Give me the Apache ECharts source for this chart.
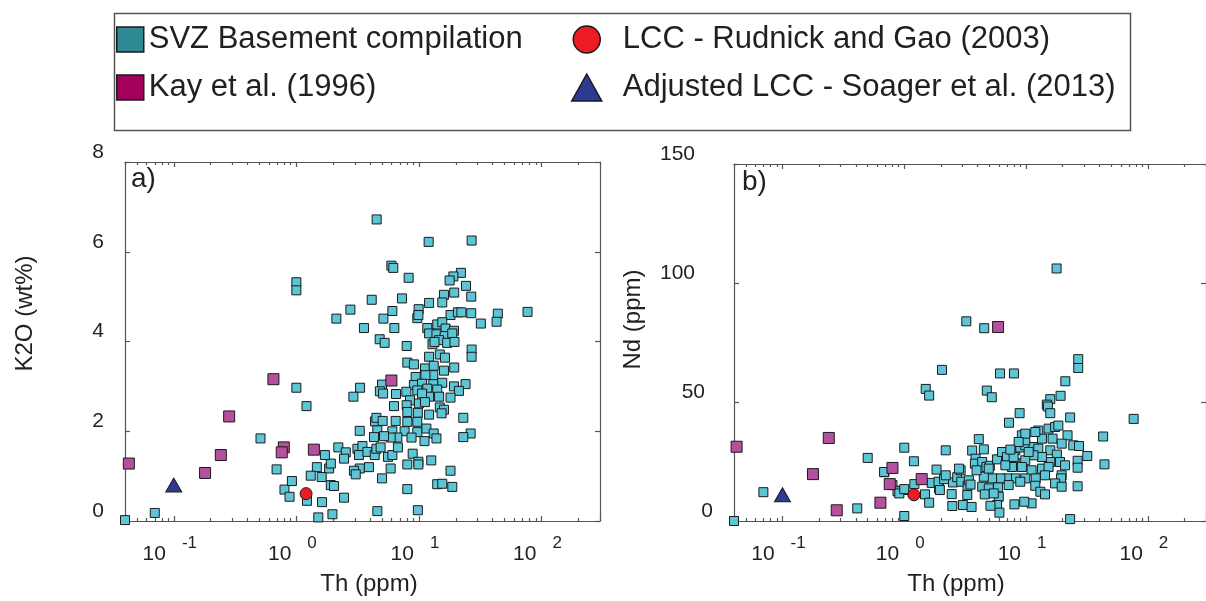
<!DOCTYPE html>
<html>
<head>
<meta charset="utf-8">
<script src="https://cdn.jsdelivr.net/npm/echarts@6/dist/echarts.min.js"></script>
<style>
  html, body { margin: 0; padding: 0; background: #ffffff; }
  #chart { width: 1206px; height: 601px; }
</style>
</head>
<body>
<div id="chart"></div>
<script>
// ---- series data: [Th (ppm), value] ----
// Panel a: K2O (wt%)
const svzK2O = [
  [0.04,0.02],[0.07,0.18],[0.51,1.84],[0.69,1.15],[0.80,0.70],[0.88,0.54],[0.92,0.89],[1.0,2.97],[1.21,2.56],[1.0,5.32],[1.0,5.14],
  [4.52,6.72],[12.0,6.22],[26.9,6.25],[5.96,5.69],[6.18,5.64],[8.24,5.42],[22.0,5.53],[19.1,5.45],[17.8,5.36],[24.2,5.24],[19.4,5.09],
  [16.0,5.04],[26.7,5.0],[4.12,4.93],[7.27,4.96],[15.5,4.87],[12.1,4.86],[2.76,4.71],[6.07,4.68],[9.95,4.72],[9.7,4.52],[9.9,4.59],
  [2.12,4.51],[5.13,4.51],[18.1,4.59],[20.8,4.65],[22.2,4.65],[26.7,4.63],[44,4.62],[43,4.44],[32,4.40],[76.9,4.66],[3.56,4.30],[6.3,4.30],
  [11.7,4.30],[14.1,4.38],[15.5,4.43],[16.5,4.29],[19.3,4.24],[12.1,4.18],[13.9,4.16],[16.2,4.12],[18.7,4.18],[14.6,4.03],[17.0,3.97],
  [19.5,3.99],[12.9,3.94],[13.4,3.99],[12.1,3.66],[14.8,3.71],[16.3,3.64],[7.94,3.90],[4.78,4.05],[5.25,3.97],[26.9,3.82],[26.9,3.66],
  [8.04,3.53],[9.1,3.49],[3.31,2.97],[2.92,2.77],[5.0,3.04],[4.8,2.89],[5.1,2.84],[6.5,2.83],
  [9.4,3.21],[11.2,3.40],[13.2,3.46],[16.0,3.35],[19.4,3.42],[13.1,3.25],[11.3,3.25],[9.1,3.03],[10.6,3.06],[13.1,3.05],[15.5,3.08],
  [24.0,3.05],[7.9,2.88],[9.7,2.91],[11.7,2.95],[14.1,2.93],[19.3,3.0],[21.2,2.90],[18.1,2.75],[14.6,2.77],[12.1,2.77],[10.6,2.84],[8.45,2.69],
  [6.26,2.56],[7.94,2.58],[8.04,2.43],[10.0,2.62],[11.2,2.65],[9.8,2.41],[12.1,2.37],[14.8,2.53],[16.0,2.48],[15.3,2.40],[23.0,2.30],
  [26.4,1.95],[23.0,1.87],[4.38,2.22],[4.5,2.30],[5.06,2.23],[6.46,2.23],[8.04,2.21],[9.7,2.21],
  [3.29,2.01],[4.58,2.02],[6.07,2.0],[7.64,2.0],[9.7,1.98],[11.5,2.06],[13.2,1.95],[13.9,1.84],[11.1,1.78],[8.7,1.86],[6.67,1.86],
  [5.88,1.86],[5.19,1.89],[4.3,1.87],
  [2.2,1.64],[2.53,1.53],[2.45,1.39],[3.15,1.61],[3.24,1.47],[3.46,1.67],[3.8,1.54],[4.36,1.47],[4.5,1.61],[4.87,1.64],[5.59,1.43],
  [6.07,1.47],[6.74,1.64],[8.89,1.50],[9.9,1.32],[9.9,1.26],[12.6,1.35],[8.04,1.26],[5.88,1.17],[3.91,1.20],[3.29,1.17],[2.95,1.12],
  [3.05,1.04],[1.85,1.17],[1.91,1.28],[1.47,1.20],[1.31,1.01],[1.61,0.98],[1.91,0.80],[2.03,0.78],[2.45,0.52],[1.62,0.42],[1.22,0.45],
  [1.51,0.08],[1.97,0.15],[4.58,0.22],[9.8,0.24],[8.04,0.71],[14.1,0.82],[15.5,0.83],[18.7,0.76],[18.1,1.12],[5.0,0.95],[1.71,1.47]
];
const kayK2O = [[0.043,1.28],[0.18,1.07],[0.242,1.47],[0.283,2.33],[0.65,3.16],[0.79,1.64],[0.76,1.53],[1.39,1.59],[5.96,3.13]];
const lccRudnickK2O = [[1.2, 0.61]];
const lccSoagerK2O = [[0.1, 0.8]];

// Panel b: Nd (ppm)
const svzNd = [
  [0.04,0],[0.0697,12.1],[0.411,5.3],[0.501,26.5],[0.687,20.5],[0.80,15.1],[0.89,12.7],[1.0,13.0],[1.0,30.8],[1.0,2.1],
  [17.8,106.1],[3.23,83.9],[4.53,81.0],[2.04,63.5],[6.11,62.0],[7.95,62.0],[26.8,68.0],[26.8,64.3],[21.0,58.7],[1.50,55.5],[1.60,52.7],
  [4.76,54.8],[5.23,52.0],[19.2,52.6],[15.8,51.2],[14.8,48.9],[15.1,48.1],[15.8,45.3],[8.85,45.3],[7.24,41.3],[23.0,43.5],[76.4,42.9],
  [42.9,35.5],[44.0,23.8],[31.8,27.3],[26.5,25.3],[26.5,22.4],[26.5,14.6],
  [1.2,25.1],[2.19,29.7],[1.84,21.6],[4.09,34.4],[3.61,29.6],[4.5,30.1],[0.683,20.6],[23.0,0.8],
  [0.88,12.5],[0.91,11.6],[1.0,13.4],[1.21,15.5],[1.48,11.2],[1.60,7.7],[1.68,16.0],[1.93,13.7],[1.91,16.5],[2.12,17.6],[2.45,11.3],
  [2.51,16.2],[2.72,18.4],[2.90,21.3],[2.94,16.5],[3.31,14.8],[3.39,17.1],[3.29,10.9],[2.48,6.3],[3.03,6.7],[3.57,5.9],[3.85,26.2],
  [3.80,24.1],[4.36,24.8],[4.73,22.7],[5.04,23.2],[5.78,25.9],[6.35,29.0],[6.97,26.9],[8.16,29.7],[8.96,30.9],[9.85,31.8],[11.5,31.1],
  [12.6,38.0],[15.3,38.8],[17.3,39.5],[18.4,40.1],[21.9,36.0],[24.4,31.8],[27.2,31.5],[9.24,36.0],[9.85,33.9],[13.5,34.6],[16.5,34.6],
  [19.6,32.5],[12.6,30.4],[15.8,29.7],[17.9,27.9],[19.0,24.8],[20.9,23.4],[15.8,24.8],[13.5,26.9],[11.5,27.6],[9.85,25.5],[8.16,24.4],
  [7.66,22.7],[9.24,22.7],[11.1,21.3],[13.5,22.0],[15.3,22.7],[19.6,19.2],[19.4,17.9],[17.3,15.8],[19.6,14.4],[14.3,19.2],[12.0,17.9],
  [9.85,17.9],[8.16,17.9],[6.97,17.9],[6.15,17.9],[5.26,17.9],[4.5,18.6],[4.36,14.4],[4.94,13.7],[5.89,14.1],[7.2,15.1],[8.96,16.5],
  [11.9,14.8],[13.1,12.3],[14.3,11.2],[11.1,7.4],[9.66,8.1],[8.02,7.0],[5.97,10.2],[5.78,6.7],[6.04,3.5],[5.1,6.4],[4.58,11.2],
  [5.43,11.6],[4.94,22.0],[6.76,23.4],[7.9,26.9],[3.92,21.3],[2.81,22.0],[2.19,19.2],[1.96,13.0],[11.9,37.4],[9.85,36.7],[8.69,33.2],
  [10.5,29.0],[7.43,30.0],[3.5,15.3]
];
const kayNd = [[0.042,31.2],[0.178,19.7],[0.24,34.9],[0.279,4.5],[0.80,22.3],[0.76,15.5],[1.39,17.6],[0.637,7.7],[5.89,81.5]];
const lccRudnickNd = [[1.2, 11]];
const lccSoagerNd = [[0.1, 11]];

// ---- axes ----
const thRange = [0.04, 300];
const thMajorTicks = [0.1, 1, 10, 100];
const thDecades = [0.01, 0.1, 1, 10, 100];
const k2oTicks = [0, 2, 4, 6, 8];
const ndTicks = [0, 50, 100, 150];

const seriesNames = {
  svz: 'SVZ Basement compilation',
  kay: 'Kay et al. (1996)',
  rudnick: 'LCC - Rudnick and Gao (2003)',
  soager: 'Adjusted LCC - Soager et al. (2013)'
};

const FONT = '"Liberation Sans", Arial, Helvetica, sans-serif';
const INK = '#231f20';
const AXIS_GREY = '#555555';
const TEAL = '#5cc6d6';
const MAGENTA = '#b5509f';

// minor log ticks: 2..9 within each decade
const thMinorTicks = [];
thDecades.forEach(d => {
  for (let k = 2; k <= 9; k++) {
    const v = +(k * d).toPrecision(3);
    if (v >= thRange[0] && v <= thRange[1]) thMinorTicks.push(v);
  }
});

const lineStyle = { color: AXIS_GREY, width: 1.2 };

function expLabel(v) {
  const e = Math.round(Math.log10(v));
  return '{b|10}{s|' + e + '}';
}

function thAxes(gridIndex, namePad) {
  const base = {
    type: 'log', logBase: 10, gridIndex: gridIndex,
    min: thRange[0], max: thRange[1],
    splitLine: { show: false },
    axisLine: { show: false, onZero: false },
    axisTick: { show: false },
    axisLabel: { show: false }
  };
  return [
    Object.assign({}, base, {
      position: 'bottom',
      axisLine: { show: true, onZero: false, lineStyle: lineStyle },
      axisTick: { show: true, inside: true, length: 5, customValues: thMajorTicks, lineStyle: lineStyle },
      axisLabel: {
        show: true, customValues: thMajorTicks, margin: 20,
        formatter: expLabel,
        rich: {
          b: { fontSize: 21, lineHeight: 24, fontFamily: FONT, color: INK, verticalAlign: 'bottom' },
          s: { fontSize: 17, lineHeight: 19, fontFamily: FONT, color: INK, verticalAlign: 'bottom', padding: [0, 8, 13, 16] }
        }
      },
      name: 'Th (ppm)', nameLocation: 'middle', nameGap: 51, nameMoveOverlap: false,
      nameTextStyle: { fontSize: 24, fontFamily: FONT, color: INK, padding: namePad }
    }),
    Object.assign({}, base, {
      position: 'bottom',
      axisTick: { show: true, inside: true, length: 3, customValues: thMinorTicks, lineStyle: lineStyle }
    }),
    Object.assign({}, base, {
      position: 'top',
      axisLine: { show: true, onZero: false, lineStyle: lineStyle },
      axisTick: { show: true, inside: true, length: 5, customValues: thMajorTicks, lineStyle: lineStyle }
    }),
    Object.assign({}, base, {
      position: 'top',
      axisTick: { show: true, inside: true, length: 3, customValues: thMinorTicks, lineStyle: lineStyle }
    })
  ];
}

function valueAxes(gridIndex, ticks, name, nameGap, namePad, labelFmt, labelRich) {
  const base = {
    type: 'value', gridIndex: gridIndex,
    min: ticks[0], max: ticks[ticks.length - 1], interval: ticks[1] - ticks[0],
    splitLine: { show: false },
    axisLine: { show: true, onZero: false, lineStyle: lineStyle },
    axisTick: { show: true, inside: true, length: 5, lineStyle: lineStyle }
  };
  return [
    Object.assign({}, base, {
      position: 'left',
      axisLabel: { show: true, margin: 21, formatter: labelFmt, rich: labelRich },
      name: name, nameLocation: 'middle', nameRotate: 90, nameGap: nameGap, nameMoveOverlap: false,
      nameTextStyle: { fontSize: 24, fontFamily: FONT, color: INK, padding: namePad }
    }),
    Object.assign({}, base, { position: 'right', axisLabel: { show: false } })
  ];
}

const tickText = { fontSize: 21, fontFamily: FONT, color: INK };
const k2oRich = { n: Object.assign({ padding: [0, 0, 20, 0] }, tickText) };
const ndRich = {
  w: Object.assign({ padding: [0, 18, 20, 0] }, tickText),
  n: Object.assign({ padding: [0, 8, 20, 0] }, tickText),
  z: Object.assign({ padding: [0, 0, 20, 0] }, tickText)
};

const xAxes = thAxes(0, [0, 0, 0, 13]).concat(thAxes(1, [0, 28, 0, 0]));
const yAxes = valueAxes(0, k2oTicks, 'K2O (wt%)', 88, [0, 0, 0, 56], v => '{n|' + v + '}', k2oRich)
  .concat(valueAxes(1, ndTicks, 'Nd (ppm)', 89, [0, 0, 0, 46],
    v => (v >= 100 ? '{w|' : v > 0 ? '{n|' : '{z|') + v + '}', ndRich));

const markerBorder = '#1a1a1a';
function panelSeries(xi, yi, svz, kay, rud, soa) {
  return [
    { type: 'scatter', name: seriesNames.svz, xAxisIndex: xi, yAxisIndex: yi, data: svz,
      symbol: 'rect', symbolSize: 9,
      itemStyle: { color: TEAL, borderColor: markerBorder, borderWidth: 1, opacity: 1 } },
    { type: 'scatter', name: seriesNames.kay, xAxisIndex: xi, yAxisIndex: yi, data: kay,
      symbol: 'rect', symbolSize: 11,
      itemStyle: { color: MAGENTA, borderColor: markerBorder, borderWidth: 1, opacity: 1 } },
    { type: 'scatter', name: seriesNames.rudnick, xAxisIndex: xi, yAxisIndex: yi, data: rud,
      symbol: 'circle', symbolSize: 12,
      itemStyle: { color: '#ed1c24', borderColor: markerBorder, borderWidth: 1, opacity: 1 } },
    { type: 'scatter', name: seriesNames.soager, xAxisIndex: xi, yAxisIndex: yi, data: soa,
      symbol: 'triangle', symbolSize: [16, 14],
      itemStyle: { color: '#2e3a92', borderColor: markerBorder, borderWidth: 1, opacity: 1 } }
  ];
}

const legendText = { fontSize: 31, fontFamily: FONT, color: INK };
const legendBorder = { borderColor: markerBorder, borderWidth: 1.5 };

const option = {
  animation: false,
  backgroundColor: '#ffffff',
  textStyle: { fontFamily: FONT, color: INK },
  grid: [
    { left: 125, top: 162, width: 475, height: 359, containLabel: false },
    { left: 734, top: 164, width: 475, height: 359, containLabel: false }
  ],
  title: [
    { text: 'a)', left: 131, top: 165, padding: 0, textStyle: { fontSize: 28, fontWeight: 'normal', fontFamily: FONT, color: INK } },
    { text: 'b)', left: 742, top: 168, padding: 0, textStyle: { fontSize: 28, fontWeight: 'normal', fontFamily: FONT, color: INK } }
  ],
  legend: [
    {
      orient: 'vertical', left: 116, top: 24, padding: 0,
      itemWidth: 27, itemHeight: 25, itemGap: 17, selectedMode: false,
      textStyle: legendText,
      data: [
        { name: seriesNames.svz, icon: 'rect', itemStyle: Object.assign({ color: '#2f8b93' }, legendBorder) },
        { name: seriesNames.kay, icon: 'rect', itemStyle: Object.assign({ color: '#a2005c' }, legendBorder) }
      ]
    },
    {
      orient: 'vertical', left: 571, top: 24, padding: 0,
      itemWidth: 30, itemHeight: 27, itemGap: 17, selectedMode: false,
      textStyle: Object.assign({ padding: [0, 0, 0, 16] }, legendText),
      data: [
        { name: seriesNames.rudnick, icon: 'circle', itemStyle: Object.assign({ color: '#ed1c24' }, legendBorder) },
        { name: seriesNames.soager, icon: 'triangle', itemStyle: Object.assign({ color: '#2e3a92' }, legendBorder) }
      ]
    }
  ],
  graphic: [
    { type: 'rect', left: 112, top: 11, silent: true, z: -1,
      shape: { width: 1016, height: 117 },
      style: { fill: 'none', stroke: '#555555', lineWidth: 1.5 } }
  ],
  xAxis: xAxes,
  yAxis: yAxes,
  series: panelSeries(0, 0, svzK2O, kayK2O, lccRudnickK2O, lccSoagerK2O)
    .concat(panelSeries(4, 2, svzNd, kayNd, lccRudnickNd, lccSoagerNd))
};

const chart = echarts.init(document.getElementById('chart'), null, { renderer: 'canvas' });
chart.setOption(option);
</script>
</body>
</html>
